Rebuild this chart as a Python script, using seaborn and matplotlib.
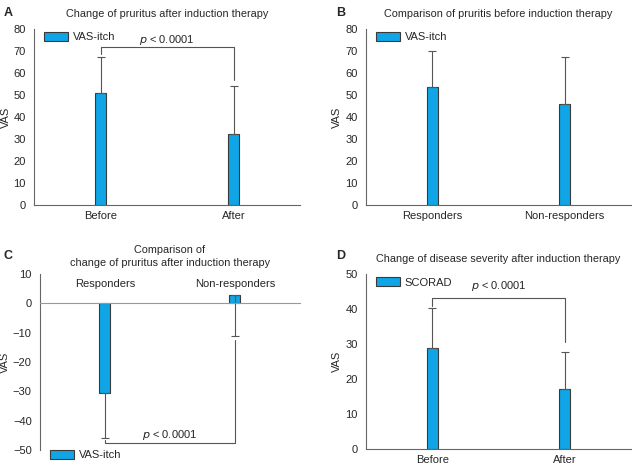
import matplotlib
matplotlib.use("Agg")
import matplotlib.pyplot as plt
import seaborn as sns
import pandas as pd
from matplotlib.patches import Patch

# values (mean and one-sided SD)
a_labels = ["Before", "After"]
a_mean = [51.0, 32.3]
a_sd = [16.5, 21.7]

b_labels = ["Responders", "Non-responders"]
b_mean = [53.7, 46.1]
b_sd = [16.3, 21.4]

c_labels = ["Responders", "Non-responders"]
c_mean = [-30.7, 3.0]
c_sd = [15.1, 14.0]

d_labels = ["Before", "After"]
d_mean = [29.0, 17.3]
d_sd = [11.2, 10.5]

p_text = "< 0.0001"

sns.set_style("white")
plt.rcParams["font.family"] = ["Liberation Sans", "DejaVu Sans"]
plt.rcParams["font.size"] = 8
plt.rcParams["axes.titlesize"] = 7.8
plt.rcParams["xtick.labelsize"] = 8
plt.rcParams["ytick.labelsize"] = 8
plt.rcParams["axes.labelsize"] = 8
plt.rcParams["legend.fontsize"] = 8

bar_color = "#0fa5e6"
edge_color = "#3a3a3a"
line_color = "#555555"
axis_color = "#666666"

fig = plt.figure(figsize=(6.32, 4.65), dpi=100)
axA = fig.add_axes([0.0538, 0.5591, 0.421, 0.3785])
axB = fig.add_axes([0.579, 0.5591, 0.419, 0.3785])
axC = fig.add_axes([0.0633, 0.0323, 0.411, 0.3785])
axD = fig.add_axes([0.579, 0.0344, 0.419, 0.376])


def draw_bars(ax, labels, mean, sd, down=False):
    df = pd.DataFrame({"group": labels, "value": mean})
    sns.barplot(data=df, x="group", y="value", ax=ax, width=0.085,
                color=bar_color, edgecolor=edge_color, linewidth=0.8,
                saturation=1, errorbar=None)
    if down:
        yerr = [sd, [0] * len(sd)]
    else:
        yerr = [[0] * len(sd), sd]
    ax.errorbar(range(len(labels)), mean, yerr=yerr, fmt="none",
                ecolor=line_color, elinewidth=0.8, capsize=3, capthick=0.8,
                zorder=1)
    ax.set_xlim(-0.5, 1.5)
    ax.set_xlabel("")
    for s in ["top", "right"]:
        ax.spines[s].set_visible(False)
    for s in ["left", "bottom"]:
        ax.spines[s].set_color(axis_color)
        ax.spines[s].set_linewidth(0.8)
    ax.set_xticks([-0.5, 0.5, 1.5], minor=True)
    ax.tick_params(axis="x", which="minor", length=4, width=0.8,
                   color=axis_color, direction="out")
    ax.tick_params(axis="x", which="major", length=0, pad=4)
    ax.tick_params(axis="y", length=4, width=0.8, color=axis_color,
                   direction="out", pad=2)
    ax.set_ylabel("VAS", labelpad=2)


def add_legend(ax, label, **kw):
    h = Patch(facecolor=bar_color, edgecolor=edge_color, linewidth=0.8,
              label=label)
    ax.legend(handles=[h], frameon=False, handlelength=2.2, handleheight=0.9,
              handletextpad=0.4, **kw)


def bracket(ax, x0, x1, y, y0, y1, ty):
    ax.plot([x0, x0, x1, x1], [y0, y, y, y1], color=line_color, lw=0.8)
    ax.text((x0 + x1) / 2, ty, "$p$ " + p_text, ha="center", va="center")


# A
draw_bars(axA, a_labels, a_mean, a_sd)
axA.set_ylim(0, 80)
axA.set_yticks(range(0, 81, 10))
axA.set_title("Change of pruritus after induction therapy", pad=9)
add_legend(axA, "VAS-itch", loc="upper left", bbox_to_anchor=(0.0, 1.04))
bracket(axA, 0, 1, 71.8, 68.8, 57.0, 75.2)

# B
draw_bars(axB, b_labels, b_mean, b_sd)
axB.set_ylim(0, 80)
axB.set_yticks(range(0, 81, 10))
axB.set_title("Comparison of pruritis before induction therapy", pad=9)
add_legend(axB, "VAS-itch", loc="upper left", bbox_to_anchor=(0.0, 1.04))

# C
draw_bars(axC, c_labels, c_mean, c_sd, down=True)
axC.set_ylim(-50, 10)
axC.set_yticks(range(-50, 11, 10))
axC.spines["bottom"].set_position(("data", 0))
axC.spines["bottom"].set_color("#999999")
axC.set_xticklabels([])
for i, lab in enumerate(c_labels):
    axC.text(i, 6.7, lab, ha="center", va="center")
axC.set_title("Comparison of\nchange of pruritus after induction therapy",
              pad=6, linespacing=1.3)
add_legend(axC, "VAS-itch", loc="center left", bbox_to_anchor=(0.0, -0.03))
bracket(axC, 0, 1, -47.7, -46.5, -12.5, -44.8)

# D
draw_bars(axD, d_labels, d_mean, d_sd)
axD.set_ylim(0, 50)
axD.set_yticks(range(0, 51, 10))
axD.set_title("Change of disease severity after induction therapy", pad=9)
add_legend(axD, "SCORAD", loc="upper left", bbox_to_anchor=(0.0, 1.04))
bracket(axD, 0, 1, 43.2, 41.0, 30.6, 46.7)

# panel letters
for lab, x, y in [("A", 0.006, 0.985), ("B", 0.532, 0.985),
                  ("C", 0.006, 0.462), ("D", 0.532, 0.462)]:
    fig.text(x, y, lab, fontsize=9, fontweight="bold", va="top")

fig.savefig("out.png", dpi=100)
